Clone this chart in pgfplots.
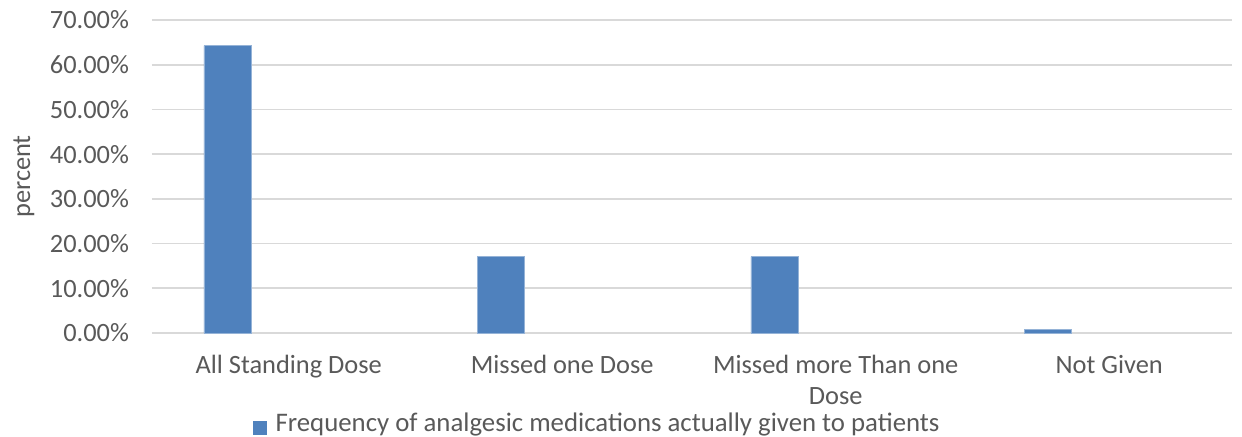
\documentclass[border=0pt]{standalone}
\usepackage{pgfplots}
\pgfplotsset{compat=1.18}
\usepackage{fontspec}
\setmainfont{Carlito}
\definecolor{barblue}{HTML}{4F81BD}
\definecolor{gridgray}{HTML}{D9D9D9}
\definecolor{txtgray}{HTML}{595959}
\newcommand\chartfont{\fontsize{13.2pt}{15.5pt}\selectfont}
\newcommand\legfont{\fontsize{13.4pt}{15.5pt}\selectfont}

\begin{document}
\begin{tikzpicture}
\path[use as bounding box] (0,0) rectangle (621pt,218pt);
\begin{axis}[
	at={(76pt,51.5pt)},
	anchor=south west,
	scale only axis,
	width=540pt,
	height=156.5pt,
	xmin=-0.5, xmax=3.449,
	ymin=0, ymax=70,
	axis line style={draw=none},
	major tick length=0pt,
	xtick={0,1,2,3},
	xticklabels={All Standing Dose, Missed one Dose, {Missed more Than one\\Dose}, Not Given},
	xticklabel style={align=center, font=\chartfont, text=txtgray, yshift=-7.5pt},
	ytick={0,10,...,70},
	yticklabels={0.00\%,10.00\%,20.00\%,30.00\%,40.00\%,50.00\%,60.00\%,70.00\%},
	yticklabel style={font=\chartfont, text=txtgray, xshift=-8pt},
	ymajorgrids,
	grid style={gridgray, line width=0.9pt},
	ylabel={percent},
	every axis y label/.style={at={(axis description cs:-0.1185,0.5)}, rotate=90, anchor=center, font=\chartfont, text=txtgray},
	legend style={at={(axis description cs:0.0935,-0.291)}, anchor=west, draw=none, fill=none, font=\legfont, text=txtgray, inner sep=0pt, column sep=2.5pt},
	legend image code/.code={\fill[barblue] (0pt,-5pt) rectangle (6.2pt,1.5pt);},
	clip=false,
]
\addplot[ybar, bar width=0.172, bar shift=-0.224, fill=barblue, draw=barblue!60!white, line width=0.4pt]
	coordinates {(0,64.3) (1,17.1) (2,17.1) (3,0.7)};
\addlegendentry{Frequency of analgesic medications actually given to patients}
\end{axis}
\end{tikzpicture}
\end{document}
